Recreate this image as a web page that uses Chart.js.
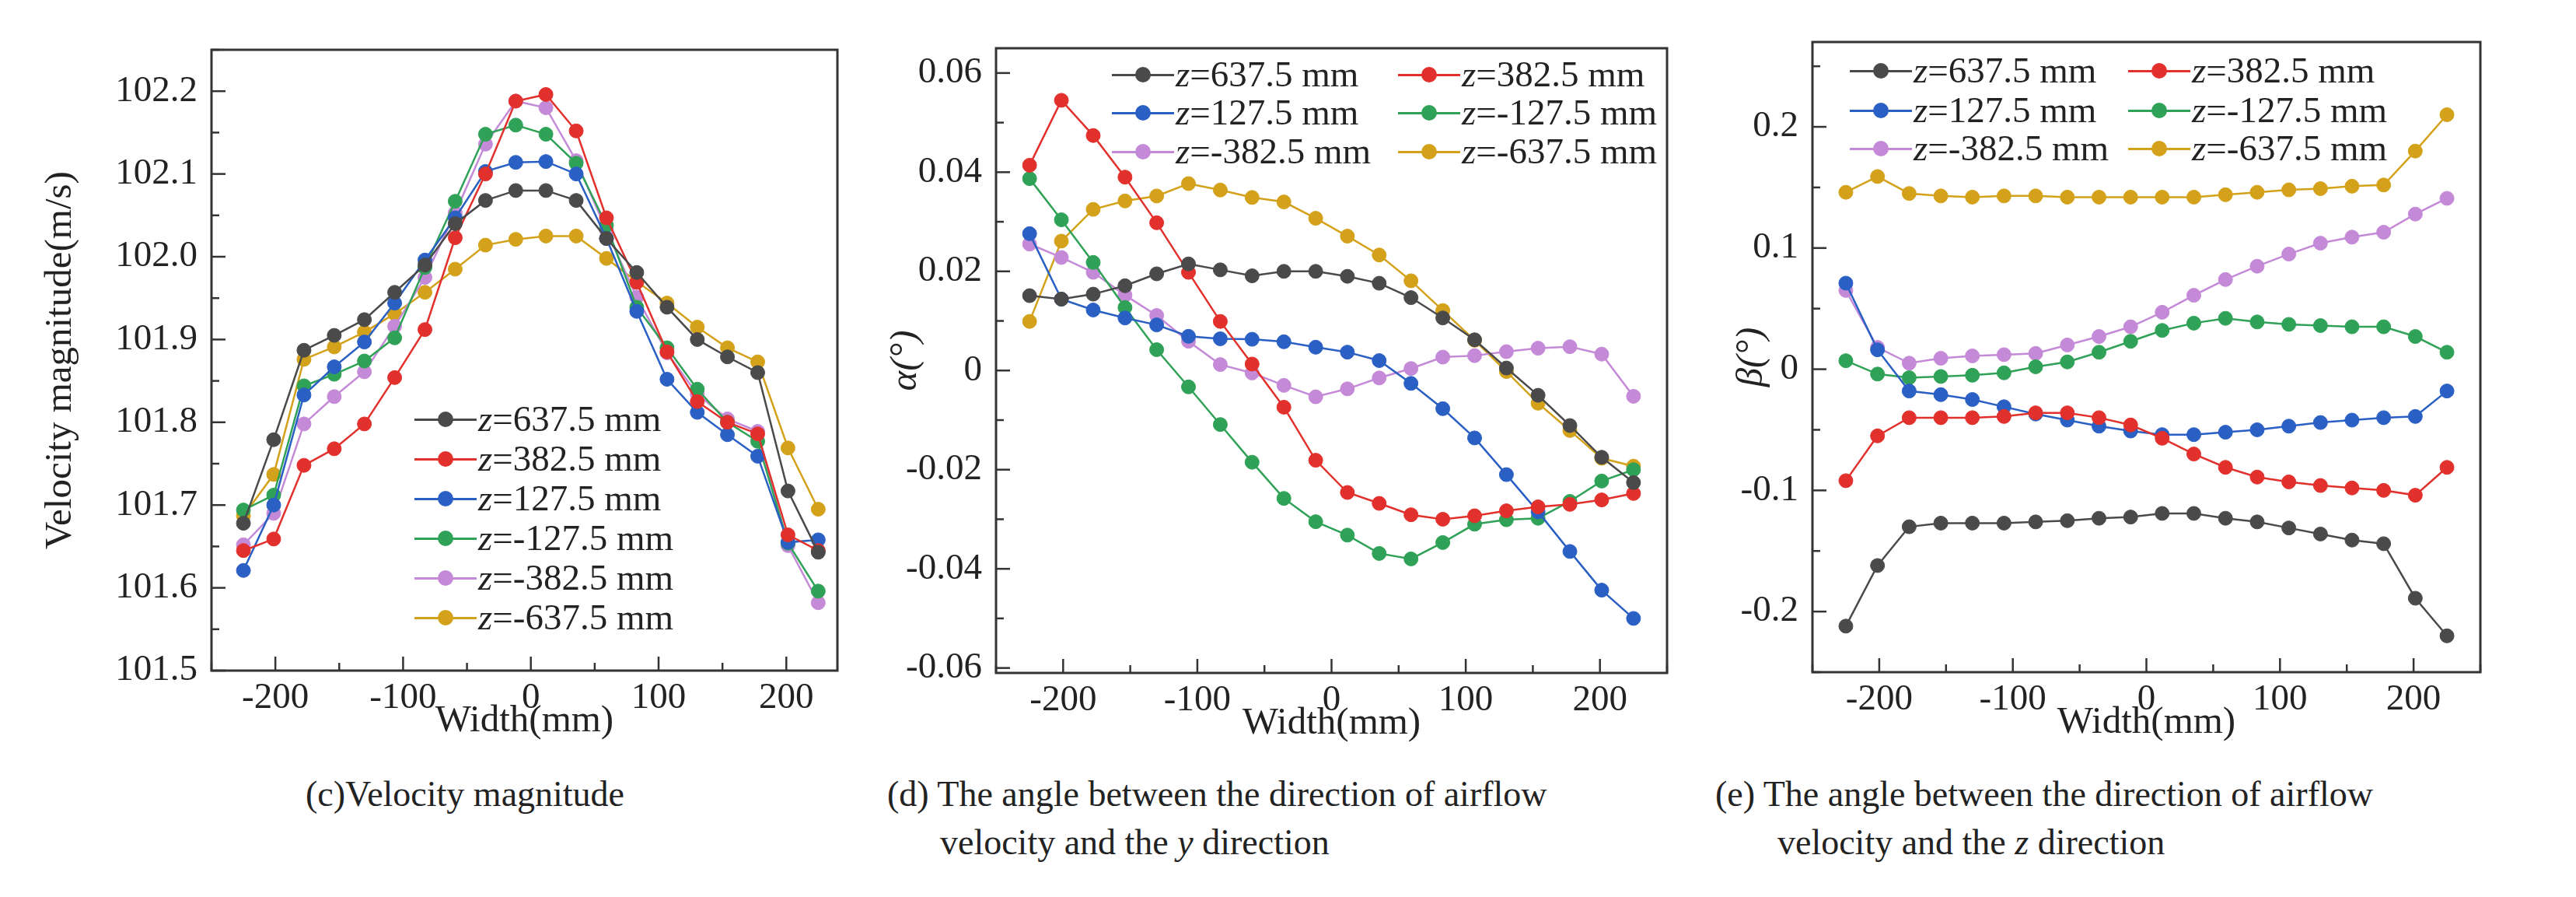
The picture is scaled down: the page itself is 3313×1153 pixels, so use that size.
<!DOCTYPE html>
<html><head><meta charset="utf-8">
<script src="https://cdn.jsdelivr.net/npm/chart.js@4"></script>
<style>
body{margin:0;background:#fff;width:3313px;height:1153px;position:relative;overflow:hidden;font-family:"Liberation Serif",serif;}
.box{position:absolute;}
.txt{position:absolute;font-family:"Liberation Serif",serif;color:#222;white-space:nowrap;}
.leg{position:absolute;font-family:"Liberation Serif",serif;font-size:47px;color:#222;white-space:nowrap;display:flex;align-items:center;line-height:1;}
.mk{position:relative;width:80px;height:20px;display:inline-block;margin-right:2px;}
.mk .ln{position:absolute;left:0;right:0;top:9px;height:3px;}
.mk .dt{position:absolute;left:30px;top:0;width:20px;height:20px;border-radius:50%;}
i{font-style:italic;}
</style></head><body>
<div class="box" style="left:0;top:0;width:1100px;height:952px"><canvas id="c1"></canvas></div>
<div class="box" style="left:1100px;top:0;width:1100px;height:955px"><canvas id="c2"></canvas></div>
<div class="box" style="left:2200px;top:0;width:1113px;height:954px"><canvas id="c3"></canvas></div>
<div class="txt" style="left:393px;top:994px;font-size:46px">(c)Velocity magnitude</div>
<div class="txt" style="left:1141px;top:994px;font-size:46px">(d) The angle between the direction of airflow</div>
<div class="txt" style="left:1209px;top:1056px;font-size:46px">velocity and the <i>y</i> direction</div>
<div class="txt" style="left:2206px;top:994px;font-size:46px">(e) The angle between the direction of airflow</div>
<div class="txt" style="left:2286px;top:1056px;font-size:46px">velocity and the <i>z</i> direction</div>
<div id="legs"></div>
<script>
const xs=[-225,-201.3,-177.6,-153.9,-130.3,-106.6,-82.9,-59.2,-35.5,-11.8,11.8,35.5,59.2,82.9,106.6,130.3,153.9,177.6,201.3,225];
const names=["z=637.5 mm","z=382.5 mm","z=127.5 mm","z=-127.5 mm","z=-382.5 mm","z=-637.5 mm"];
const colors=["#4a4a4a","#e2302c","#2a5fc4","#2fa257","#c48ad8","#d3a21a"];
// (c) velocity magnitude
const vel637=[101.678,101.779,101.887,101.905,101.924,101.957,101.990,102.040,102.068,102.080,102.080,102.068,102.022,101.981,101.939,101.900,101.879,101.860,101.717,101.643];
const vel382=[101.645,101.659,101.748,101.768,101.798,101.854,101.912,102.023,102.100,102.188,102.196,102.152,102.047,101.969,101.885,101.825,101.800,101.786,101.664,101.645];
const vel127=[101.621,101.700,101.833,101.867,101.897,101.944,101.996,102.047,102.103,102.114,102.115,102.100,102.022,101.934,101.852,101.812,101.785,101.759,101.655,101.658];
const velm127=[101.694,101.712,101.844,101.858,101.874,101.902,101.987,102.067,102.148,102.159,102.148,102.113,102.038,101.939,101.890,101.840,101.800,101.777,101.654,101.596];
const velm382=[101.652,101.690,101.798,101.831,101.861,101.916,101.975,102.053,102.136,102.188,102.180,102.116,102.032,101.951,101.884,101.834,101.804,101.789,101.651,101.582];
const velm637=[101.687,101.737,101.876,101.891,101.909,101.931,101.957,101.985,102.014,102.021,102.025,102.025,101.998,101.970,101.944,101.915,101.890,101.873,101.769,101.695];
// (d) alpha
const al637=[0.0151,0.0144,0.0154,0.0171,0.0195,0.0215,0.0203,0.0191,0.0200,0.0200,0.0190,0.0176,0.0147,0.0106,0.0062,0.0005,-0.0050,-0.0111,-0.0175,-0.0226];
const al382=[0.0414,0.0545,0.0474,0.0390,0.0298,0.0198,0.0099,0.0013,-0.0074,-0.0181,-0.0246,-0.0268,-0.0291,-0.0300,-0.0293,-0.0283,-0.0275,-0.0270,-0.0261,-0.0248];
const al127=[0.0276,0.0144,0.0122,0.0106,0.0092,0.0069,0.0064,0.0063,0.0058,0.0047,0.0037,0.0020,-0.0026,-0.0077,-0.0136,-0.0210,-0.0285,-0.0365,-0.0443,-0.0500];
const alm127=[0.0387,0.0304,0.0218,0.0127,0.0042,-0.0033,-0.0109,-0.0185,-0.0258,-0.0305,-0.0332,-0.0369,-0.0380,-0.0347,-0.0310,-0.0301,-0.0298,-0.0264,-0.0223,-0.0200];
const alm382=[0.0255,0.0228,0.0198,0.0152,0.0111,0.0059,0.0012,-0.0005,-0.0030,-0.0053,-0.0037,-0.0015,0.0004,0.0027,0.0030,0.0038,0.0045,0.0048,0.0033,-0.0052];
const alm637=[0.0099,0.0261,0.0325,0.0342,0.0352,0.0377,0.0364,0.0349,0.0340,0.0307,0.0271,0.0233,0.0181,0.0121,0.0061,-0.0002,-0.0066,-0.0121,-0.0177,-0.0193];
// (e) beta
const be637=[-0.212,-0.162,-0.130,-0.127,-0.127,-0.127,-0.126,-0.125,-0.123,-0.122,-0.119,-0.119,-0.123,-0.126,-0.131,-0.136,-0.141,-0.144,-0.189,-0.220];
const be382=[-0.092,-0.055,-0.040,-0.040,-0.040,-0.039,-0.036,-0.036,-0.040,-0.046,-0.057,-0.070,-0.081,-0.089,-0.093,-0.096,-0.098,-0.100,-0.104,-0.081];
const be127=[0.071,0.016,-0.018,-0.021,-0.025,-0.031,-0.037,-0.042,-0.047,-0.051,-0.054,-0.054,-0.052,-0.050,-0.047,-0.044,-0.042,-0.040,-0.039,-0.018];
const bem127=[0.007,-0.004,-0.007,-0.006,-0.005,-0.003,0.002,0.006,0.014,0.023,0.032,0.038,0.042,0.039,0.037,0.036,0.035,0.035,0.027,0.014];
const bem382=[0.065,0.018,0.005,0.009,0.011,0.012,0.013,0.020,0.027,0.035,0.047,0.061,0.074,0.085,0.095,0.104,0.109,0.113,0.128,0.141];
const bem637=[0.146,0.159,0.145,0.143,0.142,0.143,0.143,0.142,0.142,0.142,0.142,0.142,0.144,0.146,0.148,0.149,0.151,0.152,0.180,0.210];

const xTicks=[-200,-100,0,100,200], xLabels=["-200","-100","0","100","200"];
const yTicksC=[101.5,101.6,101.7,101.8,101.9,102.0,102.1,102.2], yLabelsC=["101.5","101.6","101.7","101.8","101.9","102.0","102.1","102.2"];
const yTicksD=[-0.06,-0.04,-0.02,0,0.02,0.04,0.06], yLabelsD=["-0.06","-0.04","-0.02","0","0.02","0.04","0.06"];
const yTicksE=[-0.2,-0.1,0,0.1,0.2], yLabelsE=["-0.2","-0.1","0","0.1","0.2"];

const F="Liberation Serif";
const framePlugin={id:'frame',afterDraw(ch){
  const a=ch.chartArea,ctx=ch.ctx;ctx.save();ctx.strokeStyle='#333';ctx.lineWidth=3;
  ctx.strokeRect(a.left,a.top,a.right-a.left,a.bottom-a.top);
  const draw=(sc,vert)=>{const t=sc.ticks.map(o=>o.value);const st=t[1]-t[0];const all=[];
    for(let v=t[0]-st/2;v<=sc.max+1e-9;v+=st/2){if(v>=sc.min-1e-9)all.push(v);}
    all.forEach(v=>{const major=t.some(m=>Math.abs(m-v)<st*1e-3);const L=major?18:10;const p=sc.getPixelForValue(v);
      ctx.beginPath();if(vert){ctx.moveTo(a.left,p);ctx.lineTo(a.left+L,p);}else{ctx.moveTo(p,a.bottom);ctx.lineTo(p,a.bottom-L);}ctx.stroke();});};
  ctx.lineWidth=2.5;draw(ch.scales.x,false);draw(ch.scales.y,true);ctx.restore();}};

function make(id,series,yT,yL,ymin,ymax,xmin,xmax,yTitle,pad,yW){
  new Chart(document.getElementById(id),{type:'line',
    data:{datasets:series.map((s,i)=>({label:names[i],data:s.map((v,j)=>({x:xs[j],y:v})),borderColor:colors[i],backgroundColor:colors[i],borderWidth:2.5,pointRadius:9,pointBorderWidth:1,pointBorderColor:colors[i],tension:0}))},
    options:{responsive:true,maintainAspectRatio:false,animation:false,
      layout:{padding:{top:pad.t,right:pad.r,left:pad.l,bottom:0}},
      plugins:{legend:{display:false},tooltip:{enabled:false}},
      scales:{
        x:{type:'linear',min:xmin,max:xmax,grid:{display:false},border:{display:false},
          afterBuildTicks:s=>{s.ticks=xTicks.map(v=>({value:v}));},afterFit:s=>{s.height=90;},
          ticks:{font:{family:F,size:47,lineHeight:1},color:'#222',padding:4,maxRotation:0,callback:(v,i)=>xLabels[i]},
          title:{display:true,text:'Width(mm)',font:{family:F,size:49,lineHeight:1},color:'#222',padding:{top:0,bottom:0}}},
        y:{min:ymin,max:ymax,grid:{display:false},border:{display:false},
          afterBuildTicks:s=>{s.ticks=yT.map(v=>({value:v}));},afterFit:s=>{s.width=yW;},
          ticks:{font:{family:F,size:47},color:'#222',padding:10,callback:(v,i)=>yL[i]},
          title:{display:true,text:yTitle,font:{family:F,size:49,style:yTitle.length<6?'italic':'normal'},color:'#222',padding:{bottom:4}}}}},
    plugins:[framePlugin]});
}
make('c1',[vel637,vel382,vel127,velm127,velm382,velm637],yTicksC,yLabelsC,101.5,102.25,-250,240,'Velocity magnitude(m/s)',{t:64,r:23,l:45},227);
make('c2',[al637,al382,al127,alm127,alm382,alm637],yTicksD,yLabelsD,-0.061,0.065,-250,250,'α(°)',{t:62,r:56,l:32},149);
make('c3',[be637,be382,be127,bem127,bem382,bem637],yTicksE,yLabelsE,-0.25,0.27,-250,250,'β(°)',{t:54,r:123,l:20},111);

function leg(i,x,y){const d=document.createElement('div');d.className='leg';d.style.left=x+'px';d.style.top=(y-24)+'px';
  d.innerHTML='<span class="mk"><span class="ln" style="background:'+colors[i]+'"></span><span class="dt" style="background:'+colors[i]+'"></span></span><i>z</i>'+names[i].slice(1);
  document.getElementById('legs').appendChild(d);}
[539,590,641,692,743,794].forEach((y,i)=>leg(i,533,y));
[0,1,2,3,4,5].forEach(i=>leg(i,i%2?1798:1430,[96,145,195][Math.floor(i/2)]));
[0,1,2,3,4,5].forEach(i=>leg(i,i%2?2737:2379,[91,142,191][Math.floor(i/2)]));
</script></body></html>
